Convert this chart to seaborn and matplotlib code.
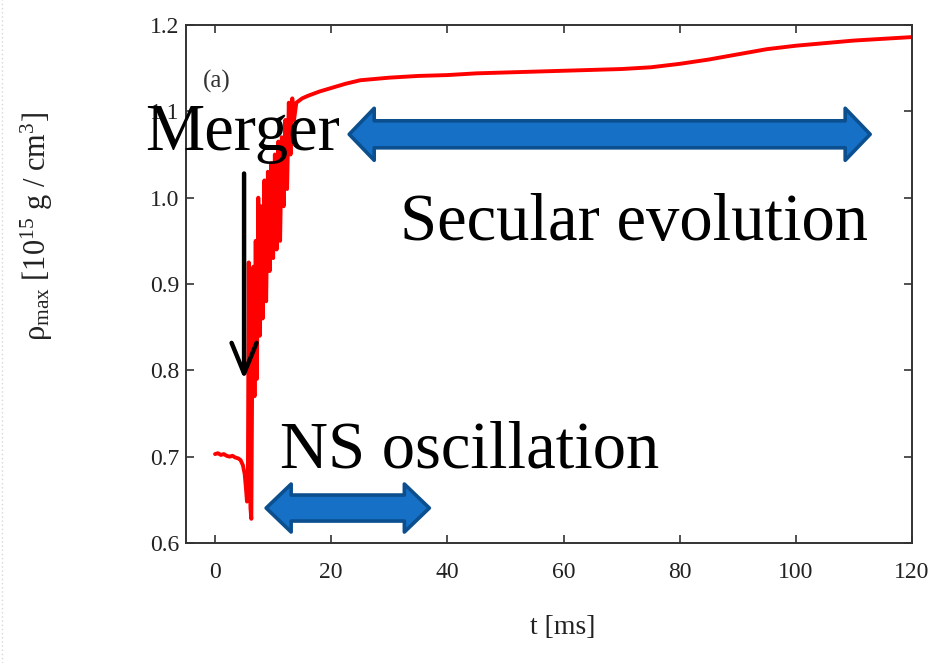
import numpy as np
import pandas as pd
import matplotlib
matplotlib.use("Agg")
import matplotlib.pyplot as plt
from matplotlib.patches import Polygon
from matplotlib.lines import Line2D
import seaborn as sns

# Maximum rest-mass density vs. time for a binary neutron star merger
t_ms = [0.0, 0.5, 1.0, 1.5, 2.0, 2.5, 3.0, 3.5, 4.0, 4.4, 4.8, 5.1, 5.3, 5.5,
        5.65, 5.8, 5.95, 6.1, 6.25, 6.4, 6.6, 6.8, 7.0, 7.2, 7.45, 7.7, 7.95,
        8.2, 8.5, 8.8, 9.1, 9.4, 9.7, 10.0, 10.3, 10.6, 10.9, 11.2, 11.5, 11.8,
        12.1, 12.4, 12.7, 13.0, 13.3, 13.6, 14.0, 15.0, 16.0, 18.0, 20.0, 22.5,
        25.0, 30.0, 35.0, 40.0, 45.0, 50.0, 55.0, 60.0, 65.0, 70.0, 75.0, 80.0,
        85.0, 90.0, 95.0, 100.0, 105.0, 110.0, 115.0, 120.0]
rho_max = [0.703, 0.704, 0.702, 0.703, 0.701, 0.700, 0.701, 0.699, 0.698, 0.696,
           0.690, 0.680, 0.665, 0.648, 0.660, 0.925, 0.700, 0.640, 0.628, 0.800,
           0.920, 0.770, 0.950, 0.790, 1.000, 0.840, 0.990, 0.860, 1.020, 0.880,
           1.030, 0.915, 1.040, 0.930, 1.050, 0.940, 1.065, 0.950, 1.070, 0.990,
           1.090, 1.010, 1.110, 1.050, 1.115, 1.090, 1.110, 1.115, 1.118, 1.123,
           1.127, 1.132, 1.136, 1.139, 1.141, 1.142, 1.144, 1.145, 1.146, 1.147,
           1.148, 1.149, 1.151, 1.155, 1.160, 1.166, 1.172, 1.176, 1.179, 1.182,
           1.184, 1.186]

x_ticks = [0, 20, 40, 60, 80, 100, 120]
y_ticks = [0.6, 0.7, 0.8, 0.9, 1.0, 1.1, 1.2]

df = pd.DataFrame({"t": t_ms, "rho": rho_max})

sns.set_style("ticks")
plt.rcParams["font.family"] = ["Liberation Serif", "DejaVu Serif"]
plt.rcParams["mathtext.fontset"] = "custom"
plt.rcParams["mathtext.rm"] = "Liberation Serif"
plt.rcParams["mathtext.it"] = "Liberation Serif:italic"

W, H = 940, 663
fig = plt.figure(figsize=(W / 100, H / 100), dpi=100)
ax = fig.add_axes([186 / W, 1 - 543 / H, (912 - 186) / W, (543 - 25) / H])

sns.lineplot(data=df, x="t", y="rho", estimator=None, sort=False,
             color="#ff0000", lw=2.8, ax=ax)

ax.set_xlim(-5, 120)
ax.set_ylim(0.6, 1.2)
ax.set_xticks(x_ticks)
ax.set_yticks(y_ticks)
ax.set_xticklabels([str(v) for v in x_ticks])
ax.set_yticklabels([f"{v:.1f}" for v in y_ticks])

for s in ax.spines.values():
    s.set_color("#333333")
    s.set_linewidth(1.4)
ax.tick_params(axis="both", direction="in", length=6, width=1.2,
               color="#333333", labelsize=17, labelcolor="#222222",
               top=True, right=True)
ax.tick_params(axis="x", pad=14)
ax.tick_params(axis="y", pad=5)

ax.set_xlabel("t [ms]", fontsize=20, color="#222222")
ax.xaxis.label.set_va("center")
ax.xaxis.set_label_coords((563 - 186) / 726, (543 - 628) / 518)
ax.set_ylabel(r"ρ$_{\rm max}$ [10$^{15}$ g / cm$^3$]", fontsize=22,
              color="#222222")
ax.yaxis.label.set_va("center")
ax.yaxis.set_label_coords((37 - 186) / 726, (543 - 226) / 518)

ax.text(203 / W, 1 - 88 / H, "(a)", transform=fig.transFigure, fontsize=18,
        color="#333333", va="baseline", ha="left")


def fig_px(x, y):
    return (x / W, 1 - y / H)


# Phase labels
big = dict(fontsize=48, color="black", va="baseline", ha="left")
fig.text(*fig_px(145, 150), "Merger", **big)
fig.text(*fig_px(400, 240), "Secular evolution", **big)
fig.text(*fig_px(280, 468), "NS oscillation", **big)

# Merger pointer
ax.annotate("", xy=(5.0, 0.7896), xytext=(5.0, 1.028),
            arrowprops=dict(arrowstyle="->,head_length=1.1,head_width=0.45",
                            lw=3.2, color="black", mutation_scale=20,
                            shrinkA=0, shrinkB=0))


def double_arrow(t0, t1, y, head_len=25, head_half=26, shaft_half=13.5):
    x0, yy = ax.transData.transform((t0, y))
    x1, _ = ax.transData.transform((t1, y))
    pts = [(x0, yy), (x0 + head_len, yy + head_half),
           (x0 + head_len, yy + shaft_half), (x1 - head_len, yy + shaft_half),
           (x1 - head_len, yy + head_half), (x1, yy),
           (x1 - head_len, yy - head_half), (x1 - head_len, yy - shaft_half),
           (x0 + head_len, yy - shaft_half), (x0 + head_len, yy - head_half)]
    pts = fig.transFigure.inverted().transform(pts)
    poly = Polygon(pts, closed=True, transform=fig.transFigure,
                   facecolor="#1570c6", edgecolor="#0c4f8f", lw=2.6,
                   joinstyle="round", zorder=5)
    fig.add_artist(poly)


double_arrow(23.1, 112.8, 1.0734)
double_arrow(8.8, 36.9, 0.6405, head_len=25, head_half=24, shaft_half=13)

# Faint dotted slide edge
fig.add_artist(Line2D([0.002, 0.002], [0, 1], transform=fig.transFigure,
                      color="#d8d8d8", lw=1, ls=(0, (1, 2))))

fig.savefig("out.png", dpi=100)
